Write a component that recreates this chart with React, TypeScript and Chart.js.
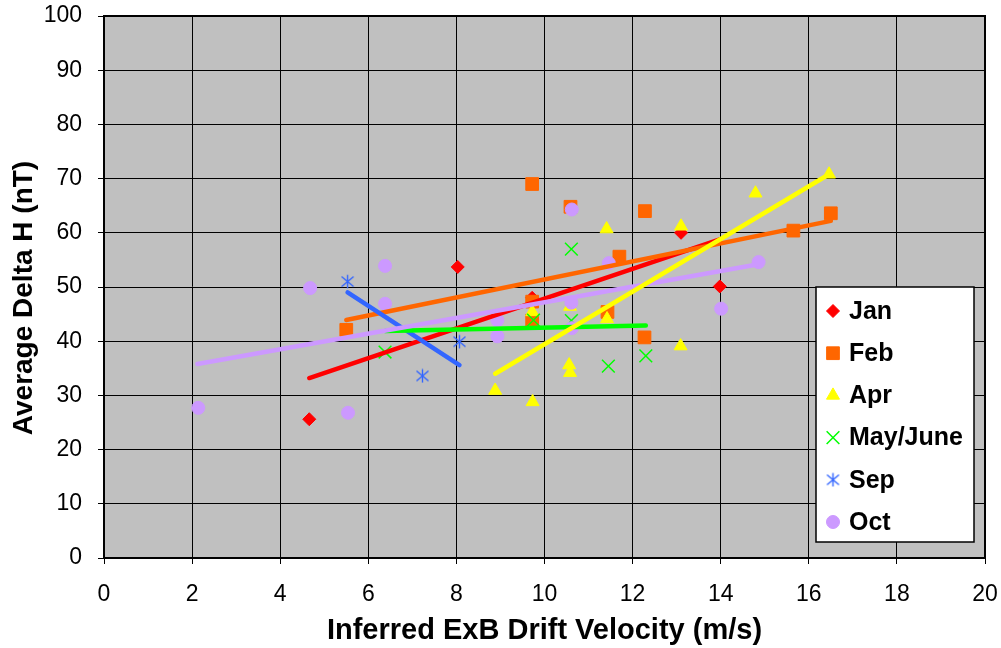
import { useEffect, useRef } from "react";
import { Chart, registerables } from "chart.js";
import { drawPoint } from "chart.js/helpers";

Chart.register(...registerables);

// ---------- data ----------
const seriesLabels = ["Jan", "Feb", "Apr", "May/June", "Sep", "Oct"];
const seriesColors = ["#FF0000", "#FF6600", "#FFFF00", "#00FF00", "#3366FF", "#CC99FF"];

const janX = [4.66, 8.03, 9.72, 13.1, 13.98];
const janY = [25.6, 53.7, 48.0, 60.0, 50.1];
const febX = [5.5, 9.72, 9.72, 9.72, 10.59, 11.43, 11.7, 12.28, 12.27, 15.65, 16.5];
const febY = [42.1, 69.0, 47.3, 43.8, 64.8, 45.4, 55.6, 64.0, 40.7, 60.4, 63.6];
const aprX = [8.88, 9.73, 9.72, 10.58, 10.56, 10.58, 11.41, 11.42, 13.1, 13.09, 14.79, 16.46];
const aprY = [30.9, 28.8, 45.4, 46.4, 35.6, 34.2, 60.7, 44.1, 61.2, 39.1, 67.3, 70.8];
const mayX = [6.38, 9.75, 10.61, 10.61, 11.45, 12.3];
const mayY = [38.0, 43.9, 57.0, 43.8, 35.4, 37.3];
const sepX = [5.53, 7.23, 8.07];
const sepY = [51.0, 33.6, 39.9];
const octX = [2.14, 4.68, 5.54, 6.38, 6.38, 8.93, 8.93, 10.62, 10.61, 10.62, 11.46, 14.01, 14.86];
const octY = [27.7, 49.8, 26.8, 53.9, 46.9, 43.9, 40.9, 64.3, 47.1, 42.4, 54.4, 46.0, 54.6];

// trend lines: [start, end]
const janTrendX = [4.66, 13.98];
const janTrendY = [33.2, 58.8];
const febTrendX = [5.5, 16.5];
const febTrendY = [43.9, 62.2];
const aprTrendX = [8.88, 16.46];
const aprTrendY = [34.0, 70.8];
const mayTrendX = [6.38, 12.3];
const mayTrendY = [41.9, 42.9];
const sepTrendX = [5.53, 8.07];
const sepTrendY = [49.0, 35.6];
const octTrendX = [2.12, 14.86];
const octTrendY = [35.8, 54.2];

const xAxisTitle = "Inferred ExB Drift Velocity (m/s)";
const yAxisTitle = "Average Delta H (nT)";
const xMin = 0, xMax = 20, xStep = 2;
const yMin = 0, yMax = 100, yStep = 10;

const FONT = "'Liberation Sans', Arial, Helvetica, sans-serif";

function pts(xs: number[], ys: number[]) {
  return xs.map((x, i) => ({ x, y: ys[i] }));
}

function makeAsterisk(color: string): HTMLCanvasElement {
  const c = document.createElement("canvas");
  c.width = 15;
  c.height = 15;
  const g = c.getContext("2d")!;
  g.strokeStyle = color;
  g.lineWidth = 1.4;
  g.beginPath();
  g.moveTo(7.5, 0.8);
  g.lineTo(7.5, 14.2);
  g.moveTo(1.5, 2.5);
  g.lineTo(13.5, 12.5);
  g.moveTo(13.5, 2.5);
  g.lineTo(1.5, 12.5);
  g.stroke();
  return c;
}

export default function App() {
  const ref = useRef<HTMLCanvasElement>(null);

  useEffect(() => {
    const canvas = ref.current!;
    const asterisk = makeAsterisk(seriesColors[4]);

    const markers: any[] = [
      { pointStyle: "rectRot", radius: 6.5, borderWidth: 1 },
      { pointStyle: "rect", radius: 9, borderWidth: 1 },
      { pointStyle: "triangle", radius: 7.5, borderWidth: 1 },
      { pointStyle: "crossRot", radius: 9, borderWidth: 1.5 },
      { pointStyle: asterisk, radius: 7, borderWidth: 1 },
      { pointStyle: "circle", radius: 6.5, borderWidth: 1 },
    ];

    const scatterData = [
      pts(janX, janY),
      pts(febX, febY),
      pts(aprX, aprY),
      pts(mayX, mayY),
      pts(sepX, sepY),
      pts(octX, octY),
    ];
    const trendData = [
      pts(janTrendX, janTrendY),
      pts(febTrendX, febTrendY),
      pts(aprTrendX, aprTrendY),
      pts(mayTrendX, mayTrendY),
      pts(sepTrendX, sepTrendY),
      pts(octTrendX, octTrendY),
    ];

    const datasets: any[] = [];
    seriesLabels.forEach((label, i) => {
      datasets.push({
        label,
        data: scatterData[i],
        showLine: false,
        backgroundColor: seriesColors[i],
        borderColor: seriesColors[i],
        pointStyle: markers[i].pointStyle,
        pointRadius: markers[i].radius,
        pointBorderWidth: markers[i].borderWidth,
        pointHoverRadius: markers[i].radius,
        order: 20 - i,
      });
    });
    const trendOrder = [6, 5, 1, 3, 4, 2];
    seriesLabels.forEach((label, i) => {
      datasets.push({
        label: label + " trend",
        data: trendData[i],
        showLine: true,
        borderColor: seriesColors[i],
        backgroundColor: seriesColors[i],
        borderWidth: 4.5,
        borderCapStyle: "round",
        pointRadius: 0,
        pointHoverRadius: 0,
        fill: false,
        order: trendOrder[i],
      });
    });

    const decorPlugin = {
      id: "decor",
      beforeDraw(chart: any) {
        const { ctx, chartArea: a } = chart;
        ctx.save();
        ctx.fillStyle = "#C0C0C0";
        ctx.fillRect(a.left, a.top, a.right - a.left, a.bottom - a.top);
        ctx.restore();
      },
      beforeDatasetsDraw(chart: any) {
        const { ctx, chartArea: a } = chart;
        ctx.save();
        ctx.strokeStyle = "#000";
        ctx.lineWidth = 2;
        ctx.strokeRect(a.left, a.top, a.right - a.left, a.bottom - a.top);
        ctx.restore();
      },
      afterDraw(chart: any) {
        const { ctx, chartArea: a } = chart;
        ctx.save();
        // axis titles
        ctx.fillStyle = "#000";
        ctx.font = `bold 29px ${FONT}`;
        ctx.textAlign = "center";
        ctx.textBaseline = "alphabetic";
        ctx.fillText(xAxisTitle, (a.left + a.right) / 2, 639);
        ctx.save();
        ctx.font = `bold 28px ${FONT}`;
        ctx.translate(32, 298);
        ctx.rotate(-Math.PI / 2);
        ctx.fillText(yAxisTitle, 0, 0);
        ctx.restore();

        // legend box
        const bx = 816, by = 287, bw = 158, bh = 255;
        ctx.fillStyle = "#FFFFFF";
        ctx.fillRect(bx, by, bw, bh);
        ctx.strokeStyle = "#000";
        ctx.lineWidth = 1.5;
        ctx.strokeRect(bx, by, bw, bh);
        const rowY0 = 311, rowGap = 42.2;
        seriesLabels.forEach((label, i) => {
          const y = rowY0 + i * rowGap;
          ctx.fillStyle = seriesColors[i];
          ctx.strokeStyle = seriesColors[i];
          ctx.lineWidth = markers[i].borderWidth;
          drawPoint(ctx, {
            pointStyle: markers[i].pointStyle,
            radius: markers[i].radius,
            rotation: 0,
            borderWidth: markers[i].borderWidth,
          } as any, 833, y);
          ctx.fillStyle = "#000";
          ctx.font = `bold 25px ${FONT}`;
          ctx.textAlign = "left";
          ctx.textBaseline = "middle";
          ctx.fillText(label, 849, y + 1);
        });
        ctx.restore();
      },
    };

    const chart = new Chart(canvas, {
      type: "scatter",
      data: { datasets },
      options: {
        animation: false,
        responsive: false,
        maintainAspectRatio: false,
        layout: { padding: { top: 16, right: 16, left: 0, bottom: 0 } },
        plugins: {
          legend: { display: false },
          tooltip: { enabled: false },
        },
        scales: {
          x: {
            type: "linear",
            min: xMin,
            max: xMax,
            ticks: {
              stepSize: xStep,
              color: "#000",
              font: { family: FONT, size: 23 },
              padding: 17,
              maxRotation: 0,
            },
            grid: { color: "#000", lineWidth: 1, tickLength: 6, drawTicks: true },
            border: { display: true, color: "#000", width: 2 },
            afterFit: (s: any) => {
              s.height = 90;
              s.paddingLeft = 0;
              s.paddingRight = 0;
            },
          },
          y: {
            type: "linear",
            min: yMin,
            max: yMax,
            ticks: {
              stepSize: yStep,
              color: "#000",
              font: { family: FONT, size: 23 },
              padding: 16,
            },
            grid: { color: "#000", lineWidth: 1, tickLength: 6, drawTicks: true },
            border: { display: true, color: "#000", width: 2 },
            afterFit: (s: any) => {
              s.width = 104;
              s.paddingTop = 0;
              s.paddingBottom = 0;
            },
          },
        },
      } as any,
      plugins: [decorPlugin],
    });

    return () => chart.destroy();
  }, []);

  return (
    <div style={{ position: "absolute", left: 0, top: 0, width: 1001, height: 648, background: "#fff" }}>
      <canvas ref={ref} width={1001} height={648} style={{ display: "block" }} />
    </div>
  );
}
